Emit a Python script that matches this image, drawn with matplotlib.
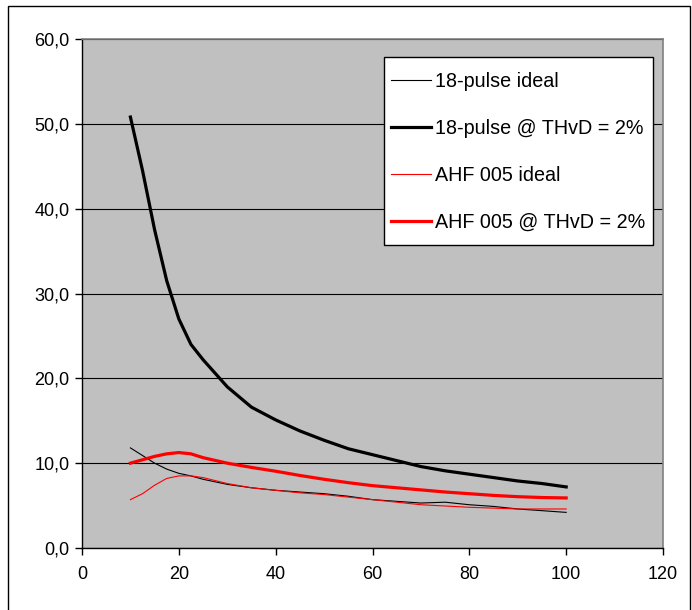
import matplotlib
matplotlib.use("Agg")
import matplotlib.pyplot as plt
import matplotlib.patches as patches
from matplotlib.ticker import FuncFormatter

plt.rcParams['font.family'] = ['Liberation Sans', 'DejaVu Sans']

# load points (%)
x = [10, 12.5, 15, 17.5, 20, 22.5, 25, 30, 35, 40, 45, 50,
     55, 60, 65, 70, 75, 80, 85, 90, 95, 100]

pulse18_ideal = [11.8, 10.9, 10.0, 9.3, 8.8, 8.5, 8.1, 7.5, 7.1, 6.8, 6.6, 6.4,
                 6.1, 5.7, 5.5, 5.3, 5.4, 5.1, 4.9, 4.6, 4.4, 4.2]
pulse18_thvd = [50.8, 44.5, 37.5, 31.5, 27.0, 24.0, 22.2, 19.0, 16.6, 15.1, 13.8, 12.7,
                11.7, 11.0, 10.3, 9.6, 9.1, 8.7, 8.3, 7.9, 7.6, 7.2]
ahf_ideal = [5.7, 6.4, 7.4, 8.2, 8.5, 8.5, 8.3, 7.6, 7.1, 6.8, 6.5, 6.3,
             6.0, 5.7, 5.4, 5.1, 4.95, 4.8, 4.7, 4.6, 4.6, 4.6]
ahf_thvd = [10.0, 10.4, 10.8, 11.1, 11.25, 11.1, 10.65, 10.0, 9.5, 9.05, 8.55, 8.1,
            7.7, 7.35, 7.1, 6.85, 6.6, 6.4, 6.2, 6.05, 5.95, 5.9]

labels = ["18-pulse ideal", "18-pulse @ THvD = 2%", "AHF 005 ideal", "AHF 005 @ THvD = 2%"]

W, H = 692, 610
fig = plt.figure(figsize=(W / 100, H / 100), dpi=100, facecolor='white')

# outer chart frame
fig.patches.append(patches.Rectangle((8 / W, -0.01), (690 - 8) / W, 1 - 6 / H + 0.01,
                                     transform=fig.transFigure, fill=False,
                                     edgecolor='black', linewidth=1.0))

ax = fig.add_axes([82 / W, 1 - 548 / H, (663 - 82) / W, (548 - 39) / H])
ax.set_facecolor('#C0C0C0')

ax.plot(x, pulse18_ideal, color='black', linewidth=0.8, label=labels[0])
ax.plot(x, pulse18_thvd, color='black', linewidth=2.3, label=labels[1])
ax.plot(x, ahf_ideal, color='#FF0000', linewidth=0.8, label=labels[2])
ax.plot(x, ahf_thvd, color='#FF0000', linewidth=2.3, label=labels[3])

ax.set_xlim(0, 120)
ax.set_ylim(0, 60)
ax.set_xticks(range(0, 121, 20))
ax.set_yticks(range(0, 61, 10))
ax.yaxis.set_major_formatter(FuncFormatter(lambda v, p: f"{v:.1f}".replace('.', ',')))
ax.grid(axis='y', color='black', linewidth=0.8)
ax.set_axisbelow(True)

for side in ('top', 'right'):
    ax.spines[side].set_color('#808080')
    ax.spines[side].set_linewidth(1.2)
for side in ('left', 'bottom'):
    ax.spines[side].set_color('black')
    ax.spines[side].set_linewidth(1.0)

ax.tick_params(axis='both', direction='out', length=5, width=1, labelsize=13, colors='black')
ax.tick_params(axis='x', pad=8)
ax.tick_params(axis='y', pad=4)

# legend box drawn separately so its padding can match the original
box = patches.Rectangle((384 / W, 1 - 245 / H), (653 - 384) / W, (245 - 57) / H,
                        transform=fig.transFigure, facecolor='white',
                        edgecolor='black', linewidth=1.0, zorder=5, clip_on=False)
ax.add_patch(box)
leg = ax.legend(loc='upper left', bbox_to_anchor=(391 / W, 1 - 72 / H),
                bbox_transform=fig.transFigure, fontsize=14.2, frameon=False,
                handlelength=2.05, handletextpad=0.2, labelspacing=1.41,
                borderpad=0, borderaxespad=0)
leg.set_zorder(6)

fig.savefig('out.png', dpi=100, facecolor='white')
